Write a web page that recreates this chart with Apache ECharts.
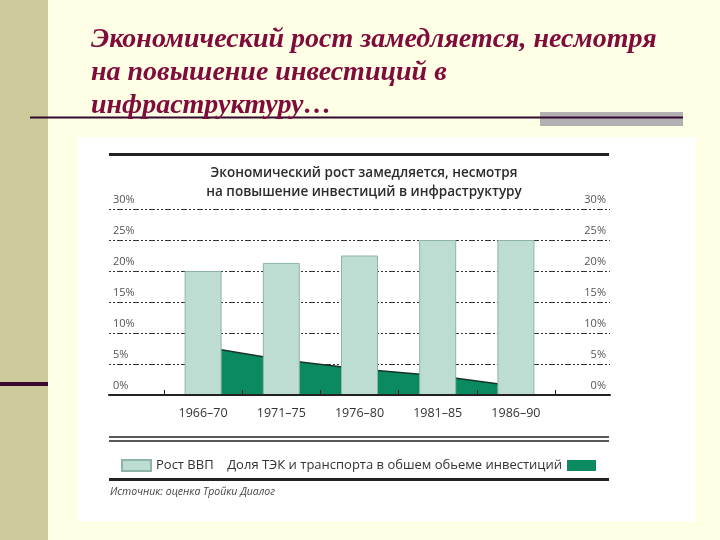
<!DOCTYPE html>
<html>
<head>
<meta charset="utf-8">
<script src="https://cdn.jsdelivr.net/npm/echarts@6/dist/echarts.min.js"></script>
<style>
html,body{margin:0;padding:0;background:#FFFFE5;}
#c{width:720px;height:540px;}
</style>
</head>
<body>
<div id="c"></div>
<script>
const periods = ['1966–70', '1971–75', '1976–80', '1981–85', '1986–90'];
const gdpGrowth = [20, 21.3, 22.5, 25, 25];
const infraShare = [7.8, 5.7, 4.2, 3.1, 1.4];
const yTicks = [0, 5, 10, 15, 20, 25, 30];

const slideTitle = 'Экономический рост замедляется, несмотря\nна повышение инвестиций в\nинфраструктуру…';
const chartTitle = 'Экономический рост замедляется, несмотря\nна повышение инвестиций в инфраструктуру';
const gdpName = 'Рост ВВП';
const shareName = 'Доля ТЭК и транспорта в обшем обьеме инвестиций';
const sourceText = 'Источник: оценка Тройки Диалог';

const chart = echarts.init(document.getElementById('c'), null, {renderer: 'canvas'});
const sans = '"Open Sans", "Noto Sans", sans-serif';

const yLabel = (align) => ({
  inside: true,
  margin: 4,
  align: align,
  verticalAlign: 'bottom',
  padding: [0, 0, 4, 0],
  color: '#555',
  fontSize: 11,
  fontFamily: sans,
  formatter: (v) => yTicks.includes(v) ? v + '%' : ''
});

chart.setOption({
  backgroundColor: '#FFFFE5',
  animation: false,
  title: [
    {
      text: slideTitle,
      left: 86, top: 18,
      textStyle: {
        fontFamily: '"Liberation Serif", "Times New Roman", serif',
        fontStyle: 'italic', fontWeight: 'bold',
        fontSize: 28, lineHeight: 33, color: '#800C3C'
      }
    },
    {
      text: chartTitle,
      left: 359, top: 159, textAlign: 'center',
      textStyle: {
        fontFamily: sans, fontWeight: 600,
        fontSize: 13.5, lineHeight: 19, color: '#2b2b2b'
      }
    }
  ],
  graphic: [
    {type: 'rect', shape: {x: 0, y: 0, width: 48, height: 540}, style: {fill: '#CDCB9B'}, z: -10},
    {type: 'rect', shape: {x: 0, y: 382, width: 48, height: 4}, style: {fill: '#3A0A2E'}, z: -9},
    {type: 'rect', shape: {x: 540, y: 112, width: 143, height: 14}, style: {fill: '#B4AFB3'}, z: -9},
    {type: 'line', shape: {x1: 30, y1: 117.5, x2: 683, y2: 117.5}, style: {stroke: '#330930', lineWidth: 2}, z: -8},
    {type: 'rect', shape: {x: 77, y: 137, width: 619, height: 384}, style: {fill: '#FFFFFF'}, z: -10},
    {type: 'line', shape: {x1: 109, y1: 154.5, x2: 609, y2: 154.5}, style: {stroke: '#222', lineWidth: 3}},
    {type: 'line', shape: {x1: 109, y1: 437, x2: 609, y2: 437}, style: {stroke: '#222', lineWidth: 1.5}},
    {type: 'line', shape: {x1: 109, y1: 441, x2: 609, y2: 441}, style: {stroke: '#222', lineWidth: 1.5}},
    {type: 'line', shape: {x1: 109, y1: 479.5, x2: 609, y2: 479.5}, style: {stroke: '#222', lineWidth: 3}},
    {type: 'text', left: 110, top: 487, style: {text: sourceText, font: 'italic 10.5px ' + sans, fill: '#444'}}
  ],
  legend: [
    {
      data: [{name: gdpName, icon: 'rect'}],
      left: 116, top: 454,
      itemWidth: 29, itemHeight: 11, itemGap: 10,
      textStyle: {fontFamily: sans, fontSize: 13, color: '#333'}
    },
    {
      data: [{name: shareName, icon: 'rect', itemStyle: {color: '#0B8A62'}}],
      right: 119, top: 454, align: 'right',
      itemWidth: 29, itemHeight: 11,
      textStyle: {fontFamily: sans, fontSize: 13, color: '#333'}
    }
  ],
  grid: [
    {left: 109, right: 110, top: 209, bottom: 145},
    {left: 164, right: 165, top: 209, bottom: 145}
  ],
  xAxis: [
    {
      gridIndex: 0, type: 'value', min: 0, max: 1, z: 10,
      axisLine: {show: true, onZero: false, lineStyle: {color: '#222', width: 2}},
      axisTick: {show: false}, axisLabel: {show: false}, splitLine: {show: false}
    },
    {
      gridIndex: 1, type: 'category', data: periods, boundaryGap: true, z: 11,
      axisLine: {show: false},
      axisTick: {show: true, inside: true, length: 5, lineStyle: {color: '#222', width: 1}},
      axisLabel: {margin: 12, color: '#333', fontSize: 12.5, fontFamily: sans}
    }
  ],
  yAxis: [
    {
      gridIndex: 0, type: 'value', min: 0, max: 30, interval: 5, position: 'left',
      axisLine: {show: false}, axisTick: {show: false},
      axisLabel: yLabel('left'),
      splitLine: {show: true, lineStyle: {color: '#333', width: 1, type: [2, 2, 2, 2, 6, 2]}}
    },
    {
      gridIndex: 0, type: 'value', min: 0, max: 30, interval: 5, position: 'right',
      axisLine: {show: false}, axisTick: {show: false},
      axisLabel: yLabel('right'),
      splitLine: {show: false}
    },
    {
      gridIndex: 1, type: 'value', min: 0, max: 30, interval: 5, show: false
    }
  ],
  series: [
    {
      name: shareName, type: 'line', xAxisIndex: 1, yAxisIndex: 2,
      data: infraShare, symbol: 'none', z: 1,
      lineStyle: {color: '#17332A', width: 1.5},
      itemStyle: {color: '#0B8A62'},
      areaStyle: {color: '#0B8A62', opacity: 1}
    },
    {
      name: gdpName, type: 'bar', xAxisIndex: 1, yAxisIndex: 2,
      data: gdpGrowth, barWidth: 37, z: 3,
      itemStyle: {color: '#BEDDD2', borderColor: '#8DB5A6', borderWidth: 1}
    }
  ]
});
</script>
</body>
</html>
